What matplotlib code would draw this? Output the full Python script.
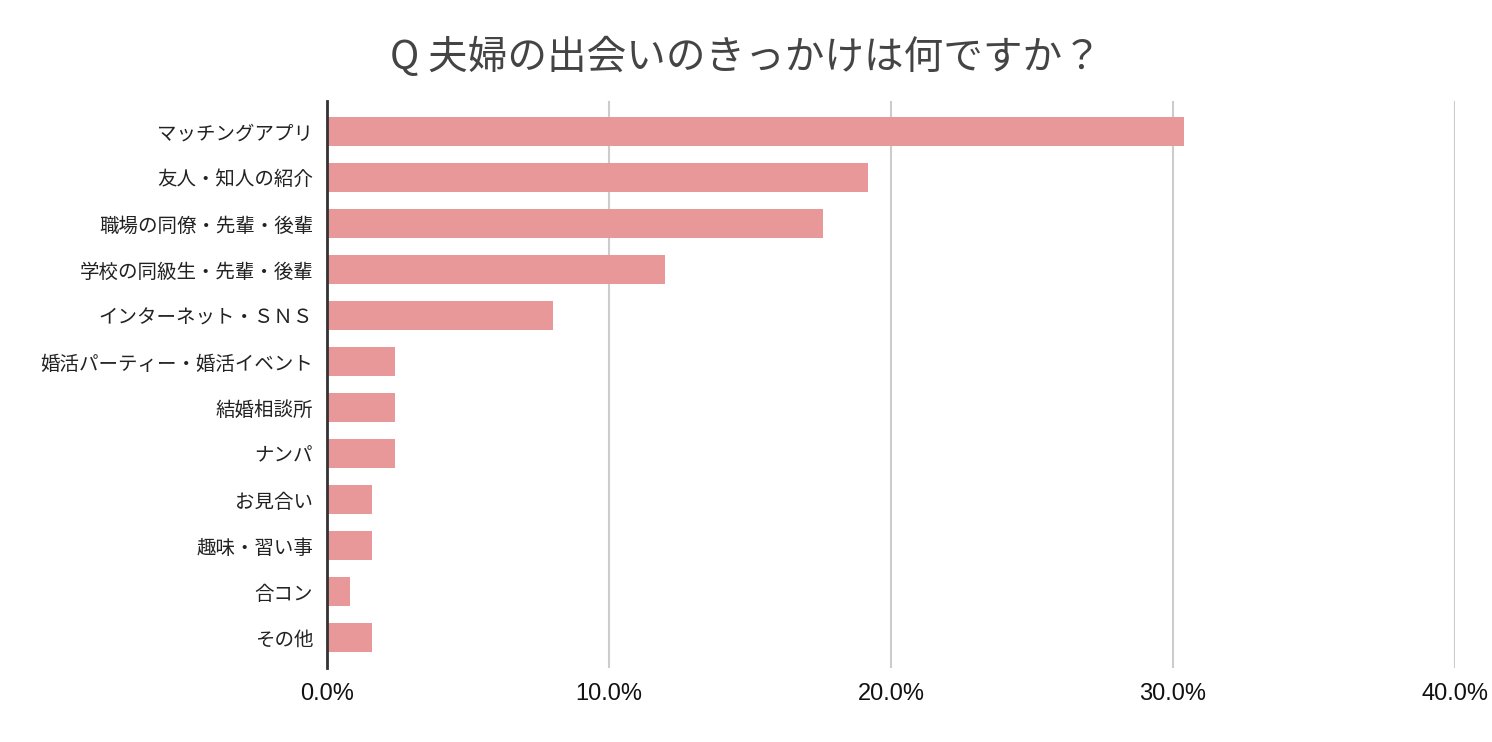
import matplotlib.pyplot as plt
from matplotlib.ticker import FuncFormatter

categories = ['マッチングアプリ', '友人・知人の紹介', '職場の同僚・先輩・後輩', '学校の同級生・先輩・後輩',
              'インターネット・ＳＮＳ', '婚活パーティー・婚活イベント', '結婚相談所', 'ナンパ',
              'お見合い', '趣味・習い事', '合コン', 'その他']
values = [30.4, 19.2, 17.6, 12.0, 8.0, 2.4, 2.4, 2.4, 1.6, 1.6, 0.8, 1.6]

plt.rcParams['font.family'] = ['Noto Sans CJK JP', 'DejaVu Sans']

fig = plt.figure(figsize=(14.92, 7.42), dpi=100)
ax = fig.add_axes([0.2192, 0.0997, 0.7560, 0.7642])

ax.barh(range(len(categories)), values, height=0.64, color='#e99899', zorder=3)

ax.set_xlim(0, 40)
ax.set_ylim(len(categories) - 0.34, -0.66)
ax.set_xticks([0, 10, 20, 30, 40])
ax.xaxis.set_major_formatter(FuncFormatter(lambda v, p: f'{v:.1f}%'))
ax.set_yticks(range(len(categories)))
ax.set_yticklabels(categories, fontsize=14, color='#222222')
for lbl in ax.get_xticklabels():
    lbl.set_fontfamily(['Liberation Sans', 'DejaVu Sans'])
    lbl.set_fontsize(17)
    lbl.set_color('#111111')

ax.tick_params(length=0)
ax.tick_params(axis='y', pad=10)
ax.tick_params(axis='x', pad=11)
ax.grid(axis='x', color='#cccccc', linewidth=1.5, zorder=0)
for s in ['top', 'right', 'bottom']:
    ax.spines[s].set_visible(False)
ax.spines['left'].set_color('#333333')
ax.spines['left'].set_linewidth(2)
ax.spines['left'].set_zorder(4)

fig.text(0.5, 0.922, 'Q 夫婦の出会いのきっかけは何ですか？', ha='center', va='center',
         fontsize=28.5, color='#444444')

fig.savefig('out.png', dpi=100)
